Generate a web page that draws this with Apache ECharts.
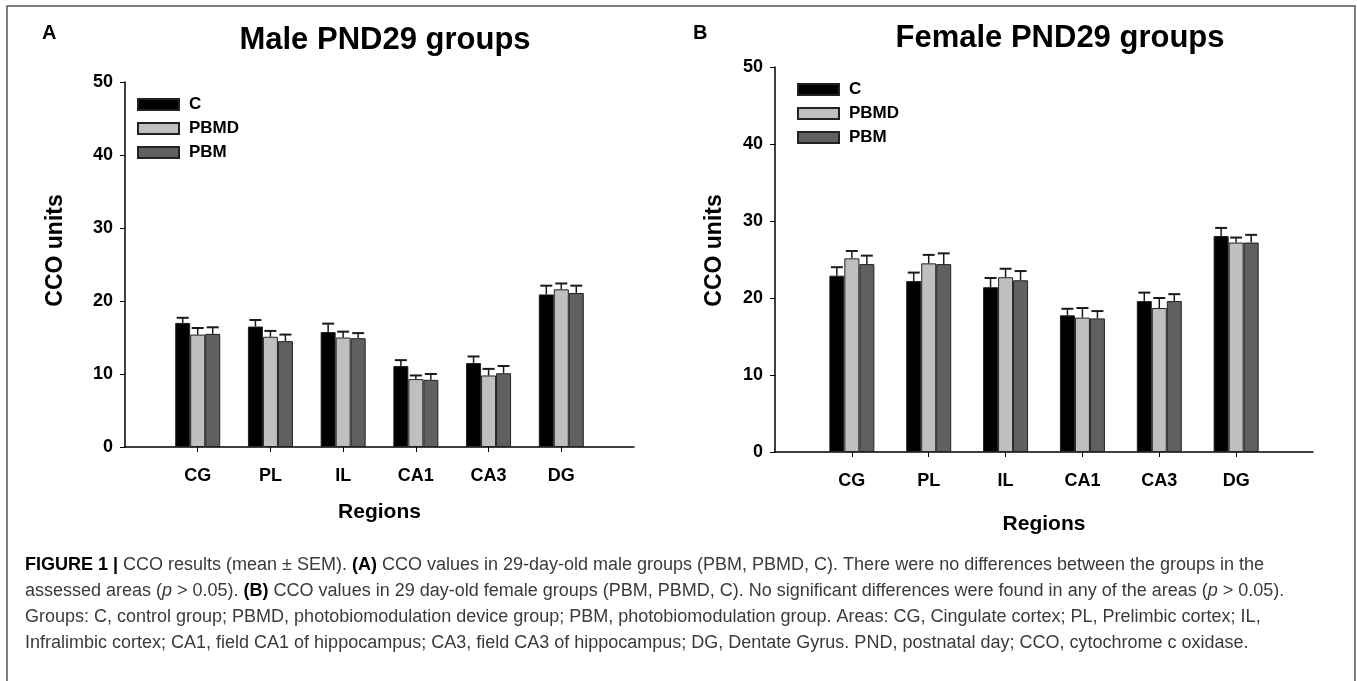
<!DOCTYPE html>
<html>
<head>
<meta charset="utf-8">
<script src="https://cdn.jsdelivr.net/npm/echarts@6/dist/echarts.min.js"></script>
<style>
  html, body { margin: 0; padding: 0; background: #fff; }
  #chart { width: 1357px; height: 681px; }
</style>
</head>
<body>
<div id="chart"></div>
<script>
// ---------------- data ----------------
const regions = ['CG', 'PL', 'IL', 'CA1', 'CA3', 'DG'];
const groups = ['C', 'PBMD', 'PBM'];
const yTicks = [0, 10, 20, 30, 40, 50];

// Male PND29 (panel A): means and SEM
const maleC = [17.0, 16.5, 15.75, 11.1, 11.5, 20.9];
const maleC_sem = [0.7, 0.9, 1.15, 0.8, 0.9, 1.2];
const malePBMD = [15.4, 15.1, 15.0, 9.3, 9.8, 21.6];
const malePBMD_sem = [0.9, 0.8, 0.8, 0.5, 0.9, 0.8];
const malePBM = [15.5, 14.5, 14.9, 9.2, 10.1, 21.1];
const malePBM_sem = [0.9, 0.9, 0.7, 0.8, 1.0, 1.0];

// Female PND29 (panel B): means and SEM
const femC = [22.9, 22.2, 21.4, 17.75, 19.6, 28.05];
const femC_sem = [1.1, 1.1, 1.2, 0.85, 1.1, 1.05];
const femPBMD = [25.15, 24.5, 22.7, 17.45, 18.7, 27.2];
const femPBMD_sem = [0.95, 1.1, 1.1, 1.25, 1.3, 0.65];
const femPBM = [24.4, 24.4, 22.3, 17.35, 19.6, 27.2];
const femPBM_sem = [1.1, 1.4, 1.2, 0.95, 0.9, 1.0];

const panelTitles = ['Male PND29 groups', 'Female PND29 groups'];
const panelLetters = ['A', 'B'];
const yName = 'CCO units';
const xName = 'Regions';

const captionLines = [
  '{b|FIGURE 1 |} CCO results (mean ± SEM). {b|(A)} CCO values in 29-day-old male groups (PBM, PBMD, C). There were no differences between the groups in the',
  'assessed areas ({i|p} > 0.05). {b|(B)} CCO values in 29 day-old female groups (PBM, PBMD, C). No significant differences were found in any of the areas ({i|p} > 0.05).',
  'Groups: C, control group; PBMD, photobiomodulation device group; PBM, photobiomodulation group. Areas: CG, Cingulate cortex; PL, Prelimbic cortex; IL,',
  'Infralimbic cortex; CA1, field CA1 of hippocampus; CA3, field CA3 of hippocampus; DG, Dentate Gyrus. PND, postnatal day; CCO, cytochrome c oxidase.'
];

// ---------------- styling ----------------
const FONT = '"Liberation Sans", Arial, sans-serif';
const fills = ['#000000', '#bfbfbf', '#606060'];
const BAR_W = 15;
const CAP_FS = 18;

const panels = [
  { left: 125, width: 509, top: 82, height: 365, means: [maleC, malePBMD, malePBM], sems: [maleC_sem, malePBMD_sem, malePBM_sem],
    yNameGap: 58, yNameShift: 28, xNameGap: 55, legendLeft: 132, legendTop: 91, titleX: 380, titleY: 20 },
  { left: 775, width: 538, top: 67, height: 385, means: [femC, femPBMD, femPBM], sems: [femC_sem, femPBMD_sem, femPBM_sem],
    yNameGap: 49, yNameShift: 18, xNameGap: 62, legendLeft: 792, legendTop: 76, titleX: 1055, titleY: 18 }
];

const axisCats = [''].concat(regions, ['']);

const grid = [], xAxis = [], yAxis = [], series = [], legend = [], title = [];

panels.forEach((p, pi) => {
  grid.push({ left: p.left, top: p.top, width: p.width, height: p.height, containLabel: false });
  xAxis.push({
    type: 'category', gridIndex: pi, data: axisCats, boundaryGap: false,
    axisLine: { lineStyle: { color: '#000', width: 1.5 } },
    axisTick: { show: true, length: 5, interval: (i) => i > 0 && i < axisCats.length - 1, lineStyle: { color: '#000', width: 1 } },
    axisLabel: { interval: 0, color: '#000', fontFamily: FONT, fontWeight: 'bold', fontSize: 18, margin: 20 },
    splitLine: { show: false },
    name: xName, nameLocation: 'middle', nameGap: p.xNameGap,
    nameTextStyle: { color: '#000', fontFamily: FONT, fontWeight: 'bold', fontSize: 21 }
  });
  yAxis.push({
    type: 'value', gridIndex: pi, min: yTicks[0], max: yTicks[yTicks.length - 1], interval: yTicks[1] - yTicks[0],
    axisLine: { show: true, lineStyle: { color: '#000', width: 1.5 } },
    axisTick: { show: true, length: 5, lineStyle: { color: '#000', width: 1 } },
    axisLabel: { color: '#000', fontFamily: FONT, fontWeight: 'bold', fontSize: 18, margin: 12 },
    splitLine: { show: false },
    name: yName, nameLocation: 'middle', nameGap: p.yNameGap, nameRotate: 90,
    nameTextStyle: { color: '#000', fontFamily: FONT, fontWeight: 'bold', fontSize: 23, padding: [0, 0, 0, p.yNameShift] }
  });
  groups.forEach((g, gi) => {
    series.push({
      name: g, type: 'bar', xAxisIndex: pi, yAxisIndex: pi,
      data: [null].concat(p.means[gi], [null]),
      barWidth: BAR_W, barGap: '0%',
      itemStyle: { color: fills[gi], borderColor: '#222', borderWidth: 1 },
      emphasis: { disabled: true }, animation: false, z: 2
    });
  });
  groups.forEach((g, gi) => {
    const errData = p.means[gi].map((m, ri) => [ri + 1, m, p.sems[gi][ri]]);
    series.push({
      type: 'custom', xAxisIndex: pi, yAxisIndex: pi, z: 3, animation: false, silent: true,
      data: errData,
      encode: { x: 0, y: 1 },
      renderItem: function (params, api) {
        const c = api.value(0), m = api.value(1), e = api.value(2);
        const off = (gi - 1) * BAR_W;
        const a = api.coord([c, m]);
        const b = api.coord([c, m + e]);
        const x = a[0] + off;
        const half = 6;
        return {
          type: 'group',
          children: [
            { type: 'line', shape: { x1: x, y1: a[1], x2: x, y2: b[1] }, style: { stroke: '#1a1a1a', lineWidth: 1.5 } },
            { type: 'line', shape: { x1: x - half, y1: b[1], x2: x + half, y2: b[1] }, style: { stroke: '#1a1a1a', lineWidth: 2 } }
          ]
        };
      }
    });
  });
  legend.push({
    data: groups, orient: 'vertical', left: p.legendLeft, top: p.legendTop,
    itemWidth: 41, itemHeight: 11, itemGap: 7, icon: 'rect', selectedMode: false,
    textStyle: { color: '#000', fontFamily: FONT, fontWeight: 'bold', fontSize: 17, lineHeight: 16, padding: [0, 0, 0, 5] }
  });
  title.push({
    text: panelTitles[pi], left: p.titleX, top: p.titleY, textAlign: 'center',
    textStyle: { color: '#000', fontFamily: FONT, fontWeight: 'bold', fontSize: 31 }
  });
});

// panel letters
title.push({ text: panelLetters[0], left: 37, top: 18, textStyle: { color: '#000', fontFamily: FONT, fontWeight: 'bold', fontSize: 20 } });
title.push({ text: panelLetters[1], left: 688, top: 18, textStyle: { color: '#000', fontFamily: FONT, fontWeight: 'bold', fontSize: 20 } });

// caption lines
captionLines.forEach((line, li) => {
  title.push({
    text: line, left: 20, top: 551 + li * 26,
    textStyle: {
      color: '#3a3a3a', fontFamily: FONT, fontWeight: 'normal', fontSize: CAP_FS,
      rich: {
        b: { color: '#000', fontFamily: FONT, fontWeight: 'bold', fontSize: CAP_FS },
        i: { color: '#3a3a3a', fontFamily: FONT, fontStyle: 'italic', fontSize: CAP_FS }
      }
    }
  });
});

const option = {
  backgroundColor: '#fff',
  animation: false,
  title: title,
  grid: grid,
  xAxis: xAxis,
  yAxis: yAxis,
  legend: legend,
  series: series,
  graphic: [
    { type: 'rect', shape: { x: 7, y: 6, width: 1348, height: 700 }, style: { fill: 'none', stroke: '#555', lineWidth: 1.5 }, silent: true, z: -1 }
  ]
};

const chart = echarts.init(document.getElementById('chart'), null, { renderer: 'canvas' });
chart.setOption(option);
</script>
</body>
</html>
